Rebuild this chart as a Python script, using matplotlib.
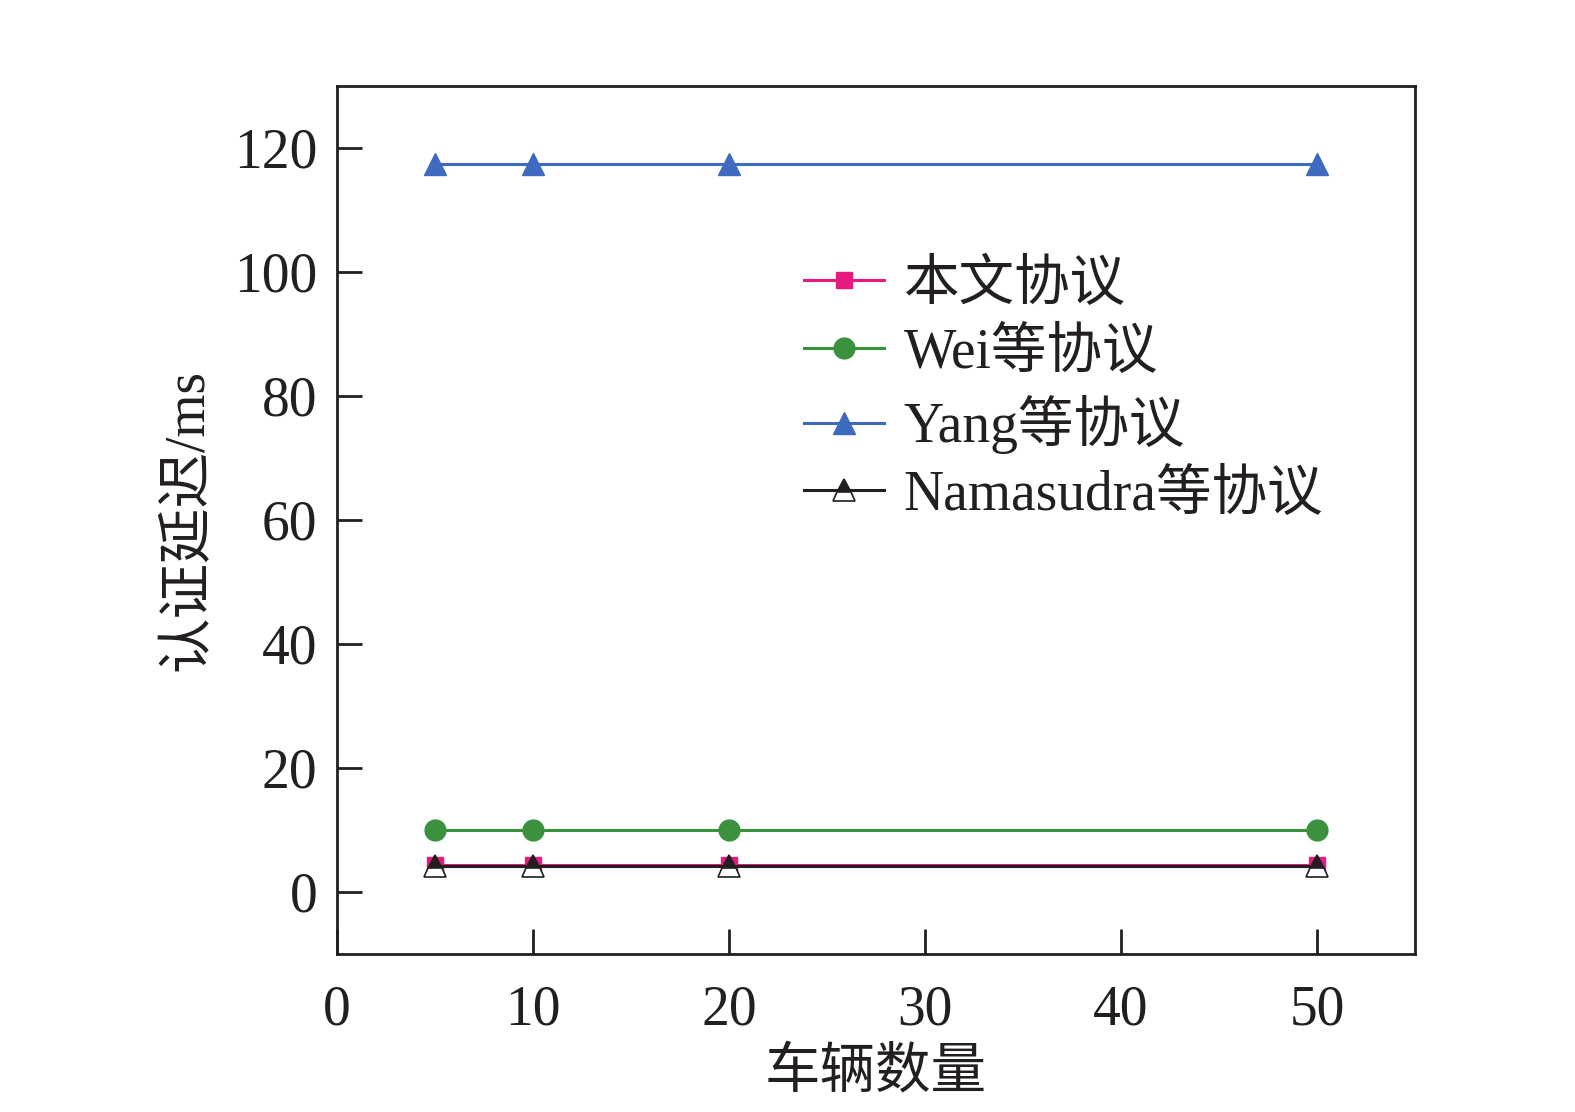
import matplotlib
matplotlib.use("Agg")
import matplotlib.pyplot as plt

plt.rcParams['font.family'] = ['Liberation Serif', 'Noto Sans CJK SC', 'DejaVu Sans']

vehicles = [5, 10, 20, 50]
ours = [4.3, 4.3, 4.3, 4.3]
wei = [10.0, 10.0, 10.0, 10.0]
yang = [117.4, 117.4, 117.4, 117.4]
namasudra = [4.2, 4.2, 4.2, 4.2]
labels = ['本文协议', 'Wei等协议', 'Yang等协议', 'Namasudra等协议']
xticks = [0, 10, 20, 30, 40, 50]
yticks = [0, 20, 40, 60, 80, 100, 120]

fig = plt.figure(figsize=(15.75, 11.12), dpi=100)
ax = fig.add_axes([337/1575, 1-954/1112, 1078/1575, 868/1112])

lw = 2.2
ax.plot(vehicles, ours, color='#e8197f', lw=lw, marker='s', ms=12, label=labels[0], zorder=3)
ax.plot(vehicles, wei, color='#3a923f', lw=lw, marker='o', ms=15, label=labels[1], zorder=3)
ax.plot(vehicles, yang, color='#3e6bbf', lw=lw, marker='^', ms=16, label=labels[2], zorder=3)
ax.plot(vehicles, namasudra, color='#231f20', lw=lw, marker='^', ms=16,
        fillstyle='top', markerfacecolor='#231f20', markerfacecoloralt='white',
        markeredgecolor='#231f20', markeredgewidth=1.2, label=labels[3], zorder=4)

ax.set_xlim(0, 55)
ax.set_ylim(-10, 130)
ax.set_xticks(xticks)
ax.set_yticks(yticks)
ax.tick_params(direction='in', length=18, width=2, labelsize=40, colors='#231f20',
               top=False, right=False)
ax.tick_params(axis='x', pad=22)
ax.tick_params(axis='y', pad=14)
for s in ax.spines.values():
    s.set_linewidth(2)
    s.set_color('#231f20')

ax.set_xlabel('车辆数量', fontsize=40, color='#231f20', labelpad=8)
ax.set_ylabel('认证延迟/ms', fontsize=40, color='#231f20', labelpad=14)

leg = ax.legend(loc='upper left', bbox_to_anchor=(0.433, 0.80), frameon=False,
                fontsize=40, handlelength=1.45, handletextpad=0.35, labelspacing=0.28,
                borderaxespad=0, borderpad=0)
for t in leg.get_texts():
    t.set_color('#231f20')

fig.savefig('out.png', dpi=100)
